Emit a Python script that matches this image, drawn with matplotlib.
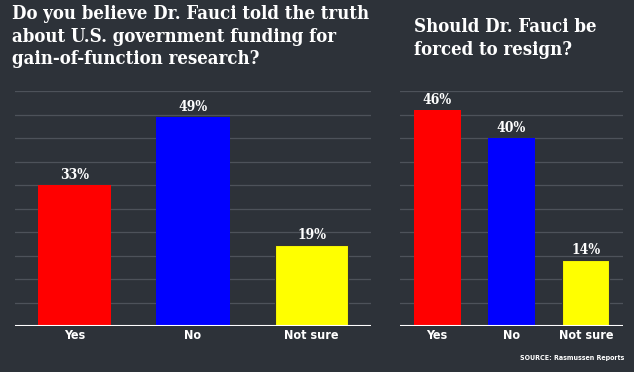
import matplotlib.pyplot as plt
import numpy as np

categories = ["Yes", "No", "Not sure"]
truth_pct = [33, 49, 19]
resign_pct = [46, 40, 14]
bar_colors = ["#ff0000", "#0000ff", "#ffff00"]

title_left = "Do you believe Dr. Fauci told the truth\nabout U.S. government funding for\ngain-of-function research?"
title_right = "Should Dr. Fauci be\nforced to resign?"
source = "SOURCE: Rasmussen Reports"

bg = "#2d3239"
W, H = 634, 372

fig = plt.figure(figsize=(6.34, 3.72), dpi=100)
fig.patch.set_facecolor(bg)

serif = ["DejaVu Serif"]
sans = ["DejaVu Sans"]


def panel(x0, x1, values, ymax, width):
    ax = fig.add_axes([x0 / W, (H - 326) / H, (x1 - x0) / W, (326 - 91) / H])
    ax.set_facecolor("none")
    x = np.arange(len(values))
    bars = ax.bar(x, values, width=width, color=bar_colors, zorder=3)
    bars[2].set_edgecolor("#333333")
    bars[2].set_linewidth(0.8)
    for xi, v in zip(x, values):
        ax.text(xi, v + ymax * 0.012, f"{v}%", ha="center", va="bottom",
                color="white", fontsize=10, fontweight="bold",
                family=serif, stretch="condensed", zorder=4)
    ax.set_xlim(-0.5, 2.5)
    ax.set_ylim(0, ymax)
    for g in np.linspace(0, ymax, 11)[1:]:
        ax.axhline(g, color="#4d525a", lw=0.9, zorder=1)
    ax.axhline(0, color="white", lw=1.5, zorder=4)
    ax.set_xticks(x)
    ax.set_xticklabels(categories, color="white", fontsize=9,
                       fontweight="bold", family=sans, stretch="condensed")
    ax.tick_params(axis="x", length=0, pad=2)
    ax.set_yticks([])
    for s in ax.spines.values():
        s.set_visible(False)
    return ax


panel(15, 371, truth_pct, 55, 0.62)
panel(400, 623, resign_pct, 50, 0.63)

fig.text(12 / W, 1 - 5 / H, title_left, ha="left", va="top", color="white",
         fontsize=13.3, fontweight="heavy", family=serif, stretch="condensed",
         linespacing=1.33)
fig.text(414 / W, 1 - 18 / H, title_right, ha="left", va="top", color="white",
         fontsize=13.3, fontweight="heavy", family=serif, stretch="condensed",
         linespacing=1.33)
fig.text(624 / W, 1 - 358 / H, source, ha="right", va="center", color="white",
         fontsize=5, fontweight="bold", family=sans, stretch="condensed")

fig.savefig("out.png", dpi=100, facecolor=bg)
